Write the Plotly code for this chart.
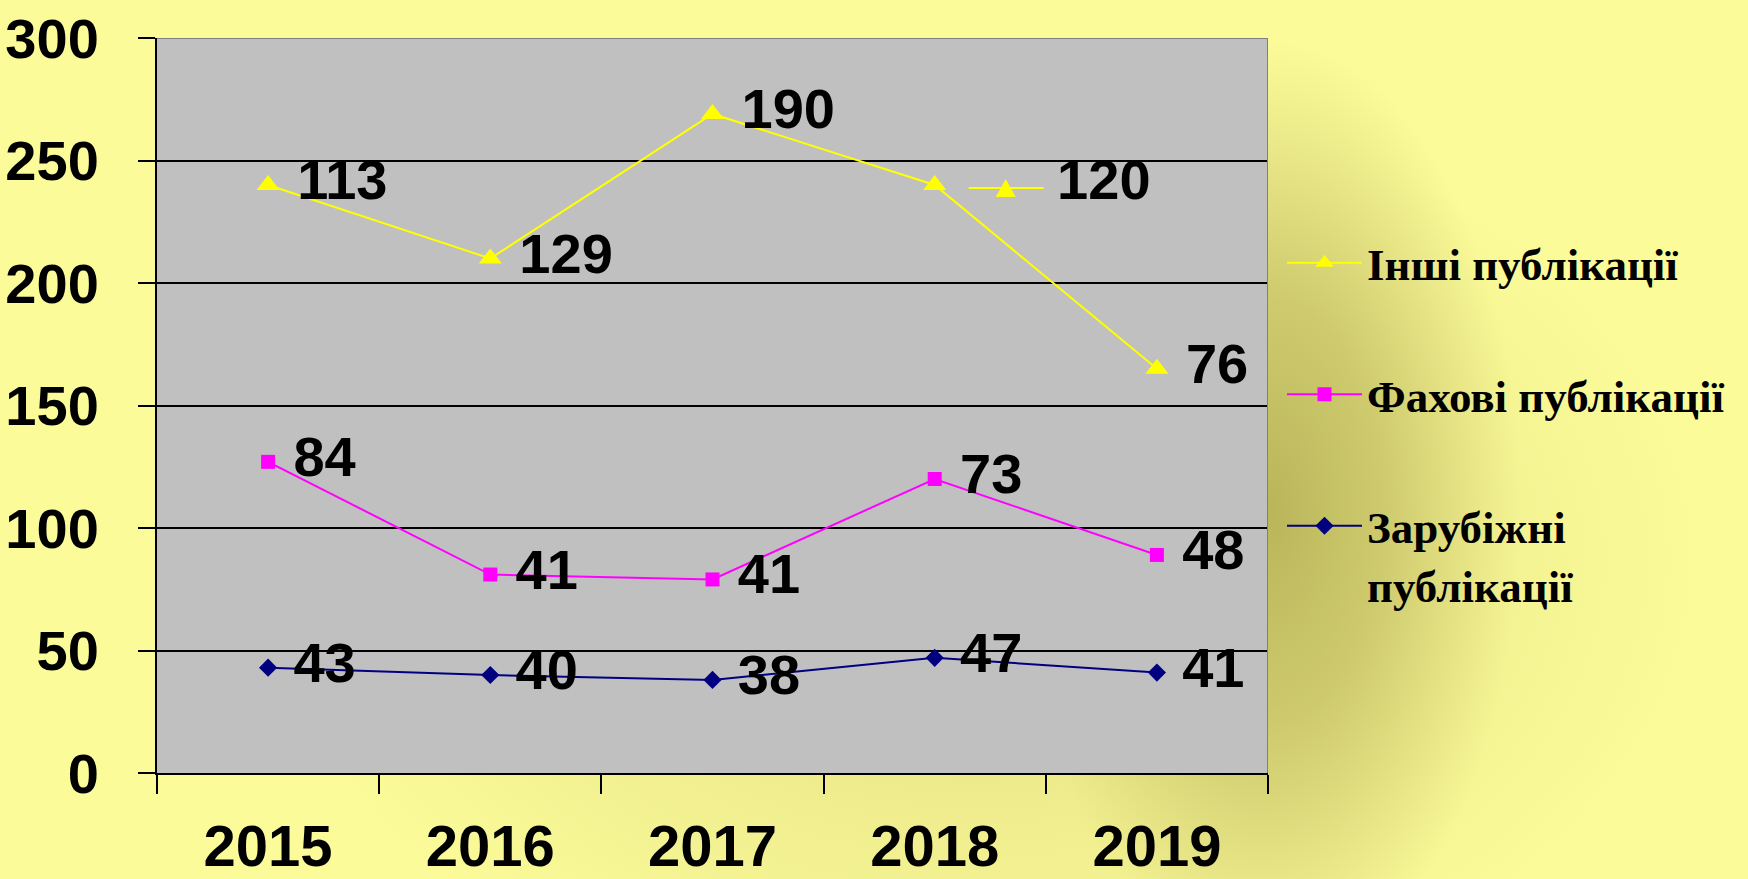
import base64
import numpy as np
import plotly.graph_objects as go

# ---------------- data ----------------
YEARS = ["2015", "2016", "2017", "2018", "2019"]
ZARUB = [43, 40, 38, 47, 41]      # Зарубіжні публікації
FAKH = [84, 41, 41, 73, 48]       # Фахові публікації
INSHI = [113, 129, 190, 120, 76]  # Інші публікації
NAMES = ["Інші публікації", "Фахові публікації", "Зарубіжні<br>публікації"]
Y_TICKS = [0, 50, 100, 150, 200, 250, 300]

# stacked (cumulative) lines, labels show individual values
cum_z = np.array(ZARUB)
cum_f = cum_z + np.array(FAKH)
cum_i = cum_f + np.array(INSHI)

W, H = 1748, 879
X0, X1, YT, YB = 157, 1268, 38, 773

NUM_FONT = "Liberation Sans, Arial, sans-serif"
LEG_FONT = "Liberation Serif, Times New Roman, serif"
NB = "\u00a0"
KEY_IDX = 3  # the 2018 "Інші" label is shown with its legend key

series = [
    (NAMES[0], cum_i, INSHI, "#FFFF00", "triangle-up", 20),
    (NAMES[1], cum_f, FAKH, "#FF00FF", "square", 14),
    (NAMES[2], cum_z, ZARUB, "#000080", "diamond", 14),
]

fig = go.Figure()
for i, (name, ys, vals, col, sym, sz) in enumerate(series):
    labels = []
    for k, v in enumerate(vals):
        pad = NB * 7 if (i == 0 and k == KEY_IDX) else NB
        labels.append(pad + str(v))
    fig.add_trace(go.Scatter(
        x=YEARS, y=ys, mode="lines+markers+text", name=name, legendgroup=f"g{i}",
        line=dict(color=col, width=2),
        marker=dict(symbol=sym, size=sz, color=col, line=dict(width=0)),
        text=labels, textposition="middle right",
        textfont=dict(family=NUM_FONT, size=56, color="black", weight="bold"),
        cliponaxis=False, hoverinfo="skip",
    ))

# background: soft yellow with a dark olive glow (SVG radial gradients)
svg = f'''<svg xmlns="http://www.w3.org/2000/svg" width="{W}" height="{H}" viewBox="0 0 {W} {H}" preserveAspectRatio="none">
<defs>
<radialGradient id="g1"><stop offset="0" stop-color="#D6D077" stop-opacity="0.7"/><stop offset="1" stop-color="#D6D077" stop-opacity="0"/></radialGradient>
<radialGradient id="g2"><stop offset="0" stop-color="#BAB55A" stop-opacity="1"/><stop offset="0.45" stop-color="#C2BE62" stop-opacity="0.75"/><stop offset="1" stop-color="#C8C468" stop-opacity="0"/></radialGradient>
</defs>
<rect x="0" y="0" width="{W}" height="{H}" fill="#FBFB99"/>
<ellipse cx="980" cy="560" rx="720" ry="480" fill="url(#g1)"/>
<ellipse cx="1270" cy="510" rx="250" ry="470" fill="url(#g2)"/>
</svg>'''
src = "data:image/svg+xml;base64," + base64.b64encode(svg.encode("utf-8")).decode("ascii")

n = len(YEARS)
shapes = [
    dict(type="rect", xref="x", yref="y", x0=-0.5, x1=n - 0.5, y0=0, y1=Y_TICKS[-1],
         fillcolor="#C0C0C0", line=dict(width=0), layer="below"),
    dict(type="line", xref="x", yref="y", x0=-0.5, x1=n - 0.5, y0=Y_TICKS[-1], y1=Y_TICKS[-1],
         line=dict(color="#808080", width=2), layer="above"),
    dict(type="line", xref="x", yref="y", x0=n - 0.5, x1=n - 0.5, y0=0, y1=Y_TICKS[-1],
         line=dict(color="#808080", width=2), layer="above"),
    # legend key next to the "120" label
    dict(type="line", xref="x", yref="y", xsizemode="pixel", ysizemode="pixel",
         xanchor=KEY_IDX, yanchor=float(cum_i[KEY_IDX]), x0=34, x1=109, y0=-3, y1=-3,
         line=dict(color="#FFFF00", width=2), layer="above"),
    dict(type="path", xref="x", yref="y", xsizemode="pixel", ysizemode="pixel",
         xanchor=KEY_IDX, yanchor=float(cum_i[KEY_IDX]), path="M61,-12 L81,-12 L71,6 Z",
         fillcolor="#FFFF00", line=dict(width=0), layer="above"),
]

fig.update_layout(
    template="none",
    width=W, height=H, autosize=False,
    margin=dict(l=0, r=0, t=0, b=0, pad=0, autoexpand=False),
    paper_bgcolor="#FBFB99", plot_bgcolor="rgba(0,0,0,0)",
    images=[dict(source=src, xref="paper", yref="paper", x=0, y=1, sizex=1, sizey=1,
                 sizing="stretch", xanchor="left", yanchor="top", layer="below")],
    shapes=shapes,
    showlegend=True,
    legend=dict(
        x=1282 / W, y=1 - 227 / H, xanchor="left", yanchor="top",
        bgcolor="rgba(0,0,0,0)", borderwidth=0,
        font=dict(family=LEG_FONT, size=45, color="black", weight="bold"),
        traceorder="grouped", tracegroupgap=70, valign="top", itemwidth=75,
    ),
    xaxis=dict(
        type="category", domain=[X0 / W, X1 / W], range=[-0.5, n - 0.5], automargin=False,
        tickson="boundaries", ticks="outside", ticklen=19, tickwidth=2, tickcolor="black",
        showline=True, linecolor="black", linewidth=2, showgrid=False, zeroline=False,
        tickfont=dict(family=NUM_FONT, size=58, color="black", weight="bold"),
        ticklabelstandoff=21, fixedrange=True,
    ),
    yaxis=dict(
        domain=[1 - YB / H, 1 - YT / H], range=[0, Y_TICKS[-1]], tickvals=Y_TICKS, automargin=False,
        ticks="outside", ticklen=17, tickwidth=2, tickcolor="black",
        showline=True, linecolor="black", linewidth=2,
        showgrid=True, gridcolor="black", gridwidth=2, zeroline=False,
        tickfont=dict(family=NUM_FONT, size=56, color="black", weight="bold"),
        ticklabelstandoff=28, fixedrange=True,
    ),
)

fig.write_html("out.html")
